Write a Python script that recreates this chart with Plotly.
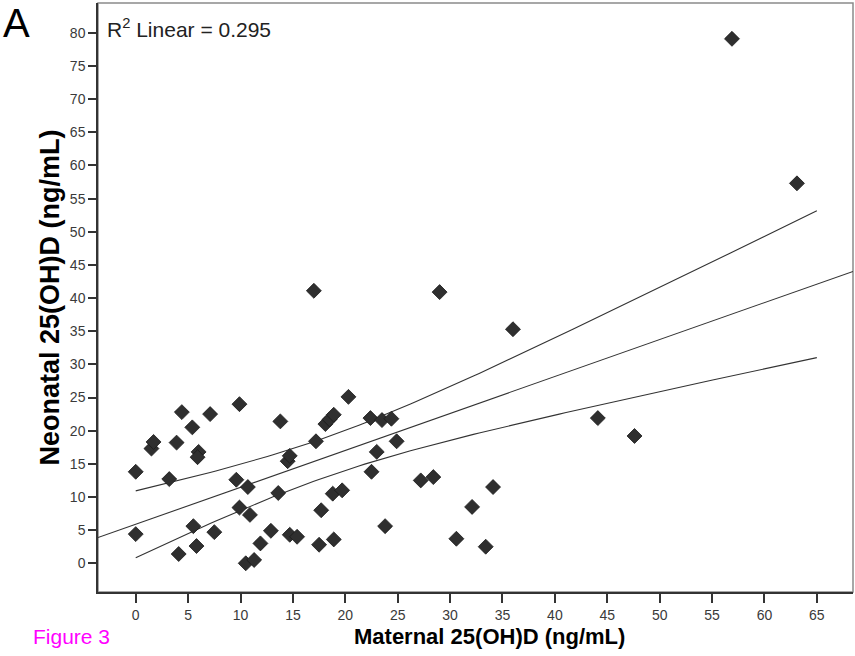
import numpy as np
import plotly.graph_objects as go

# Data
maternal = [0.0, 0.0, 1.5, 1.7, 3.2, 3.9, 4.1, 4.4, 5.4, 5.5, 5.8, 6.0, 5.9, 7.1, 7.5,
            9.6, 9.9, 9.9, 10.7, 10.9, 10.5, 11.3, 11.9, 12.9, 13.8, 13.6, 14.5, 14.7, 14.7, 15.4,
            17.2, 17.5, 17.7, 18.1, 18.5, 18.9, 18.8, 19.7, 18.9, 20.3, 17.0, 22.4, 23.5, 24.4, 24.9,
            23.0, 22.5, 23.8, 27.2, 28.4, 29.0, 30.6, 32.1, 33.4, 34.1, 36.0, 44.1, 47.6, 56.9, 63.1]
neonatal = [13.8, 4.4, 17.3, 18.3, 12.7, 18.2, 1.4, 22.8, 20.5, 5.6, 2.6, 16.8, 16.0, 22.5, 4.7,
            12.6, 24.0, 8.4, 11.5, 7.3, 0.0, 0.5, 3.0, 4.9, 21.4, 10.6, 15.4, 16.2, 4.3, 4.0,
            18.4, 2.8, 8.0, 21.0, 21.7, 22.4, 10.5, 11.0, 3.6, 25.1, 41.1, 21.9, 21.6, 21.8, 18.4,
            16.8, 13.8, 5.6, 12.5, 13.0, 40.9, 3.7, 8.5, 2.5, 11.5, 35.3, 21.9, 19.2, 79.1, 57.3]
x_ticks = list(range(0, 70, 5))
y_ticks = list(range(0, 85, 5))
x_range = [-3.6, 68.45]
y_range = [-4.33, 84.5]
band_x_range = [0, 65]
r2_label = "R<sup>2</sup> Linear = 0.295"

# Linear fit and 95% CI of the mean, computed from the data
x = np.array(maternal)
y = np.array(neonatal)
n = len(x)
slope, intercept = np.polyfit(x, y, 1)
resid = y - (intercept + slope * x)
s = np.sqrt(np.sum(resid ** 2) / (n - 2))
xbar = x.mean()
sxx = np.sum((x - xbar) ** 2)
t_crit = 2.0017

line_x = np.array(x_range)
line_y = intercept + slope * line_x
bx = np.linspace(band_x_range[0], band_x_range[1], 120)
by = intercept + slope * bx
half = t_crit * s * np.sqrt(1.0 / n + (bx - xbar) ** 2 / sxx)

fig = go.Figure()
line_style = dict(color="#333333", width=1.1)
fig.add_trace(go.Scatter(x=bx, y=by + half, mode="lines", line=line_style, hoverinfo="skip"))
fig.add_trace(go.Scatter(x=bx, y=by - half, mode="lines", line=line_style, hoverinfo="skip"))
fig.add_trace(go.Scatter(x=line_x, y=line_y, mode="lines", line=line_style, hoverinfo="skip"))
fig.add_trace(go.Scatter(
    x=maternal, y=neonatal, mode="markers",
    marker=dict(symbol="diamond", size=11.5, color="#2f2f2f",
                line=dict(color="#1a1a1a", width=0.8)),
))

FONT = "Liberation Sans, Arial, sans-serif"
tick_font = dict(family=FONT, size=14, color="#3a3a3a")
fig.update_layout(
    width=855, height=656,
    margin=dict(l=98, r=2, t=3, b=64),
    paper_bgcolor="white", plot_bgcolor="white",
    showlegend=False,
    xaxis=dict(range=x_range, tickvals=x_ticks, ticks="outside", ticklen=9, tickwidth=1.5,
               tickcolor="#333333", showline=True, linecolor="#333333", linewidth=1.5,
               showgrid=False, zeroline=False, tickfont=tick_font),
    yaxis=dict(range=y_range, tickvals=y_ticks, ticks="outside", ticklen=8, tickwidth=1.5,
               tickcolor="#333333", showline=True, linecolor="#333333", linewidth=1.5,
               showgrid=False, zeroline=False, tickfont=tick_font),
    shapes=[dict(type="rect", xref="paper", yref="paper", x0=0, y0=0, x1=1, y1=1,
                 line=dict(color="#8a8a8a", width=1.5), layer="below")],
    annotations=[
        dict(text=r2_label, xref="paper", yref="paper", x=0.0095, y=0.957, xanchor="left",
             yanchor="middle", showarrow=False,
             font=dict(family=FONT, size=21, color="#222222")),
        dict(text="Maternal 25(OH)D (ng/mL)", xref="paper", yref="paper", x=0.519, y=-0.0764,
             xanchor="center", yanchor="middle", showarrow=False,
             font=dict(family=FONT, size=22, color="black", weight="bold")),
        dict(text="Neonatal 25(OH)D (ng/mL)", xref="paper", yref="paper", x=-0.0636, y=0.5,
             xanchor="center", yanchor="middle", showarrow=False, textangle=-90,
             font=dict(family=FONT, size=27, color="black", weight="bold")),
        dict(text="A", xref="paper", yref="paper", x=-0.1285, y=0.966, xanchor="left",
             yanchor="middle", showarrow=False,
             font=dict(family=FONT, size=40, color="black")),
        dict(text="Figure 3", xref="paper", yref="paper", x=-0.0885, y=-0.0764,
             xanchor="left", yanchor="middle", showarrow=False,
             font=dict(family=FONT, size=21, color="#ff00ff")),
    ],
)

fig.write_html("out.html", config={"displayModeBar": False},
               post_script="document.body.style.margin='0';")
